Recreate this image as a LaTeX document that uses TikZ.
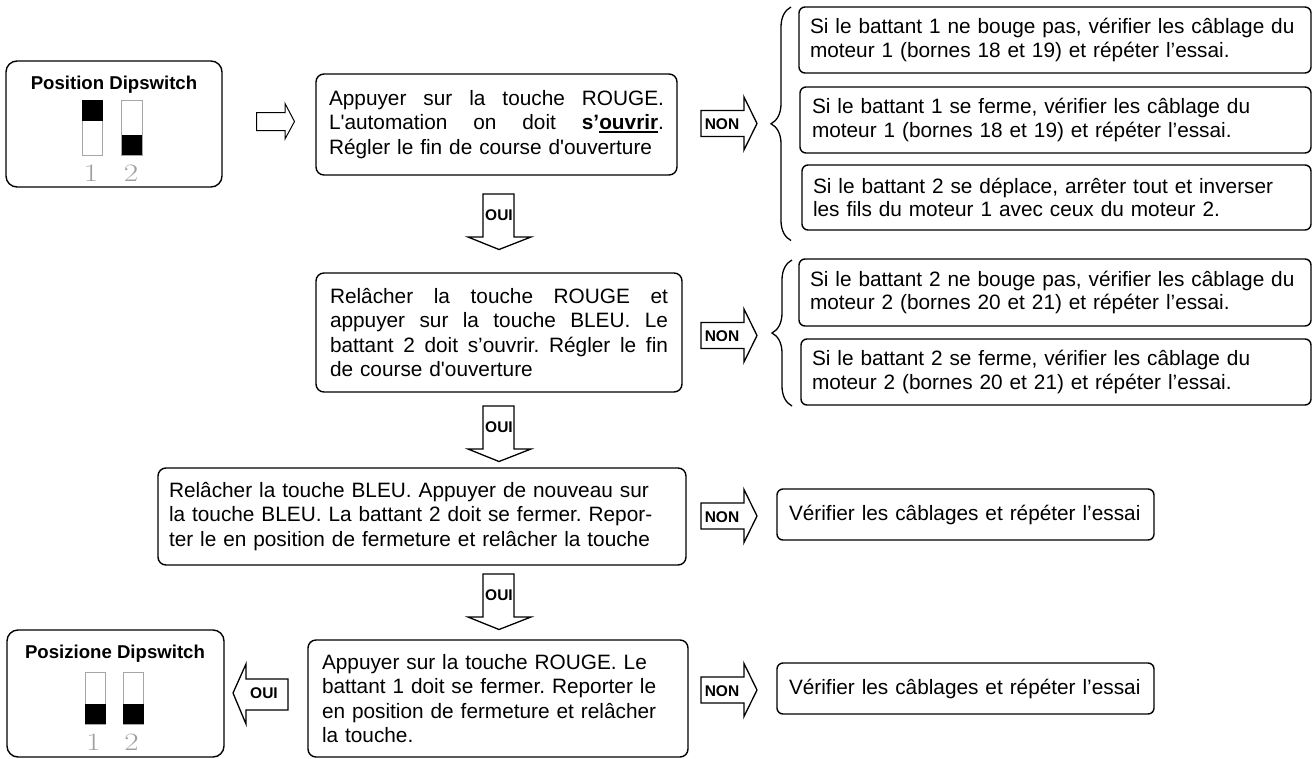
\documentclass[tikz,border=0pt]{standalone}
\usepackage{fontspec}
\usetikzlibrary{calc,decorations.pathreplacing}
\newfontfamily\labelfont{Liberation Sans}
\frenchspacing
\newcommand{\heavyUnder}[1]{\leavevmode\setbox0=\hbox{#1}\rlap{\rule[-3pt]{\wd0}{1.7pt}}\box0}
\newcommand{\spreadLine}[1]{\leavevmode\hbox to\hsize{\spaceskip=0pt\xspaceskip=0pt #1}\\}
\newcommand{\textFont}{\labelfont\fontsize{20.8}{24.3}\selectfont}
\newcommand{\noteFont}{\labelfont\fontsize{20.8}{23.6}\selectfont}
\newcommand{\tagFont}{\labelfont\bfseries\fontsize{15.5}{16}\selectfont}
\newcommand{\titleFont}{\labelfont\bfseries\fontsize{18.6}{20}\selectfont}
\tikzset{
  flowbox/.style={draw, rounded corners=8pt, line width=1.4pt, anchor=north west, outer sep=0pt, inner ysep=0pt, inner xsep=12pt, font=\textFont, align=left},
  notebox/.style={flowbox, rounded corners=6pt, minimum height=66pt, inner xsep=11pt, font=\noteFont},
  dipbox/.style={flowbox, rounded corners=11pt, inner sep=0pt},
  arrowline/.style={draw, fill=white, line width=1.3pt, line join=miter},
  curly/.style={decorate, decoration={brace, amplitude=20pt}, line width=1.3pt},
  digit/.style={gray!75, font=\fontsize{25}{25}\selectfont, xscale=1.25, transform shape, inner sep=0pt},
  nonarrow/.pic={
    \draw[arrowline] (0,-13) -- (43,-13) -- (43,-26.5) -- (56,0) -- (43,26.5) -- (43,13) -- (0,13) -- cycle;
    \node[inner sep=0pt, font=\tagFont] (-tag) at (21,1) {NON};
  },
  ouiarrow/.pic={
    \draw[arrowline] (-16,0) -- (15,0) -- (15,43) -- (32,43) -- (0,55.5) -- (-31,43) -- (-16,43) -- cycle;
    \node[inner sep=0pt, font=\tagFont] (-tag) at (0,21) {OUI};
  },
  pics/dipswitch/.style n args={3}{code={
    \draw[gray!70, line width=0.9pt] (0,0) rectangle (20.5,#3);
    \fill[black] (0,#1) rectangle (20.5,#2);
  }}
}

\begin{document}
\begin{tikzpicture}[x=1pt, y=-1pt]
  \useasboundingbox (0,0) rectangle (1312,758);

  % switches, start
  \node[dipbox, minimum width=216pt, minimum height=126pt] (startBox) at (6,61) {};
  \node[font=\titleFont, inner sep=0pt] (startTitle) at (114,84.5) {Position Dipswitch};
  \pic (startOne) at (82,100) {dipswitch={0}{21}{55}};
  \pic (startTwo) at (121.5,100) {dipswitch={35}{55}{55}};
  \node[digit] (startOneNum) at (91,173) {1};
  \node[digit] (startTwoNum) at (131,173) {2};

  \draw[arrowline, line width=1pt] (256.5,112.5) -- (285,112.5) -- (285,103.5) -- (294.5,121.5) -- (285,139) -- (285,130.5) -- (256.5,130.5) -- cycle;

  % main column
  \node[flowbox, inner xsep=13pt, text width=335pt, minimum height=101pt] (open) at (316,74) {\spreadLine{Appuyer sur la touche ROUGE.}\spreadLine{L'automation on doit \textbf{s’\heavyUnder{ouvrir}}.}Régler le fin de course d'ouverture};
  \node[flowbox, inner xsep=14pt, text width=338pt, minimum height=119pt] (blue) at (316,273) {\spreadLine{Relâcher la touche ROUGE et}\spreadLine{appuyer sur la touche BLEU. Le}\spreadLine{battant 2 doit s’ouvrir. Régler le fin}de course d'ouverture};
  \node[flowbox, inner xsep=11pt, text width=506pt, minimum height=97pt] (close) at (158,468) {Relâcher la touche BLEU. Appuyer de nouveau sur\\la touche BLEU. La battant 2 doit se fermer. Repor-\\ter le en position de fermeture et relâcher la touche};
  \node[flowbox, inner xsep=14pt, text width=352pt, minimum height=117pt] (red) at (308,640) {Appuyer sur la touche ROUGE. Le\\battant 1 doit se fermer. Reporter le\\en position de fermeture et relâcher\\la touche.};

  \foreach \ypos [count=\i] in {194,406,574}
    \pic (oui\i) at (499,\ypos) {ouiarrow};
  \foreach \ypos [count=\i] in {123.5,335.5,516,690}
    \pic (non\i) at (701,\ypos) {nonarrow};

  % checks on the right
  \node[notebox, text width=490pt] (checkA) at (799,7) {Si le battant 1 ne bouge pas, vérifier les câblage du\\moteur 1 (bornes 18 et 19) et répéter l’essai.};
  \node[notebox, inner xsep=12pt, text width=487pt] (checkB) at (800,87) {Si le battant 1 se ferme, vérifier les câblage du\\moteur 1 (bornes 18 et 19) et répéter l’essai.};
  \node[notebox, text width=487pt, minimum height=65pt] (checkC) at (802,165) {Si le battant 2 se déplace, arrêter tout et inverser\\les fils du moteur 1 avec ceux du moteur 2.};
  \node[notebox, text width=490pt, minimum height=67pt] (checkD) at (799,259) {Si le battant 2 ne bouge pas, vérifier les câblage du\\moteur 2 (bornes 20 et 21) et répéter l’essai.};
  \node[notebox, text width=488pt] (checkE) at (801,339) {Si le battant 2 se ferme, vérifier les câblage du\\moteur 2 (bornes 20 et 21) et répéter l’essai.};
  \node[notebox, inner xsep=12pt, text width=353pt, minimum height=51pt] (checkF) at (777,489) {Vérifier les câblages et répéter l’essai};
  \node[notebox, inner xsep=12pt, text width=353pt, minimum height=51pt] (checkG) at (777,663) {Vérifier les câblages et répéter l’essai};

  \coordinate (braceOneTop) at (791,7);
  \coordinate (braceOneEnd) at (791,240.5);
  \coordinate (braceTwoTop) at (792,260);
  \coordinate (braceTwoEnd) at (792,406);
  \draw[curly] (braceOneEnd) -- (braceOneTop);
  \draw[curly] (braceTwoEnd) -- (braceTwoTop);

  % switches, end
  \node[dipbox, minimum width=217pt, minimum height=127pt] (endBox) at (7,630) {};
  \node[font=\titleFont, inner sep=0pt] (endTitle) at (115,654) {Posizione Dipswitch};
  \pic (endOne) at (85,672) {dipswitch={32}{52}{52}};
  \pic (endTwo) at (123,672) {dipswitch={32}{52}{52}};
  \node[digit] (endOneNum) at (93.5,742) {1};
  \node[digit] (endTwoNum) at (131.5,742) {2};

  \draw[arrowline] (288,679) -- (246,679) -- (246,664) -- (233,693) -- (246,724) -- (246,710) -- (288,710) -- cycle;
  \node[inner sep=0pt, font=\tagFont] (ouiBack) at (264,693) {OUI};
\end{tikzpicture}
\end{document}
